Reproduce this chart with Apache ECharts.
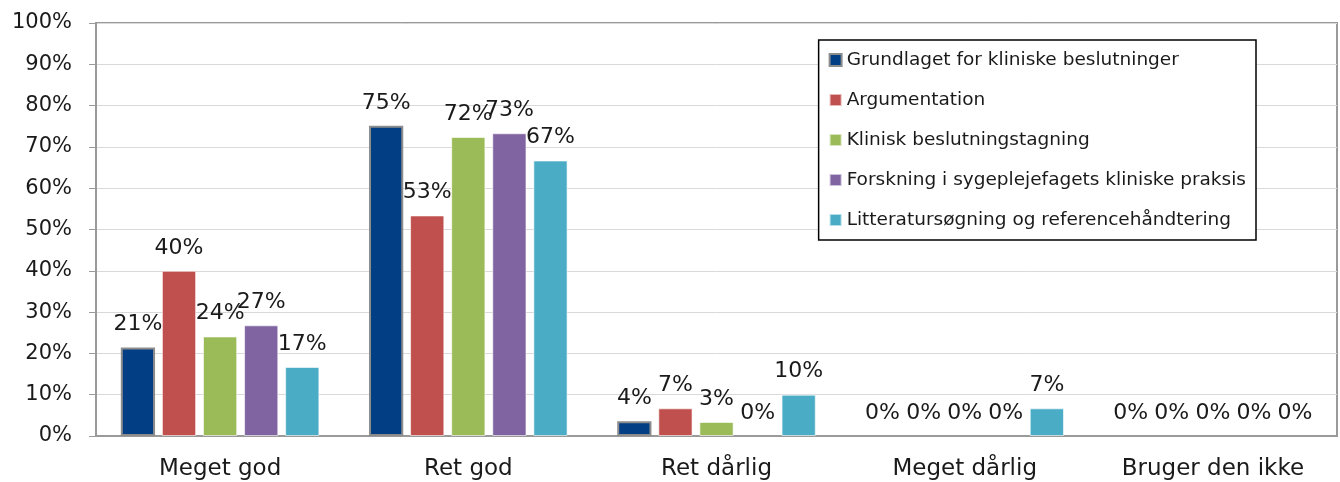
<!DOCTYPE html>
<html>
<head>
<meta charset="utf-8">
<script src="https://cdn.jsdelivr.net/npm/echarts@6/dist/echarts.min.js"></script>
<style>
  html, body { margin: 0; padding: 0; background: #fff; }
  #chart { width: 1340px; height: 482px; }
</style>
</head>
<body>
<div id="chart"></div>
<script>
// kategorier og serier
const categories = ['Meget god', 'Ret god', 'Ret dårlig', 'Meget dårlig', 'Bruger den ikke'];
const seriesNames = [
  'Grundlaget for kliniske beslutninger',
  'Argumentation',
  'Klinisk beslutningstagning',
  'Forskning i sygeplejefagets kliniske praksis',
  'Litteratursøgning og referencehåndtering'
];
const grundlaget = [21.4, 75.1, 3.6, 0, 0];
const argumentation = [40.0, 53.4, 6.7, 0, 0];
const klinisk = [24.1, 72.4, 3.4, 0, 0];
const forskning = [26.8, 73.3, 0, 0, 0];
const litteratur = [16.7, 66.7, 10.0, 6.7, 0];
const colors = ['#023e84', '#c0504d', '#9bbb59', '#8064a2', '#4bacc6'];

const font = 'DejaVu Sans';
const allData = [grundlaget, argumentation, klinisk, forskning, litteratur];

const chart = echarts.init(document.getElementById('chart'));

const series = allData.map((d, i) => ({
  name: seriesNames[i],
  type: 'bar',
  // ingen kant på 0-søjler
  data: d.map(v => v === 0 ? { value: v, itemStyle: { borderWidth: 0 } } : v),
  barGap: '20%',
  barCategoryGap: '20%',
  itemStyle: i === 0
    ? { color: colors[i], borderColor: '#8c8c8c', borderWidth: 2 }
    : { color: colors[i], borderColor: 'rgba(255,255,255,0.6)', borderWidth: 1 },
  label: {
    show: true,
    position: 'top',
    distance: 12,
    fontFamily: font,
    fontSize: 22,
    color: '#1a1a1a',
    formatter: p => Math.round(p.value) + '%'
  }
}));

chart.setOption({
  animation: false,
  color: colors,
  grid: {
    left: 96, right: 3, top: 23, bottom: 46,
    show: true, borderColor: '#9a9a9a', borderWidth: 2
  },
  legend: {
    orient: 'vertical',
    right: 84, top: 40,
    padding: [10, 10, 10, 10],
    backgroundColor: '#fff',
    borderColor: '#000',
    borderWidth: 1.5,
    itemWidth: 12, itemHeight: 12,
    itemGap: 20,
    icon: 'rect',
    textStyle: { fontFamily: font, fontSize: 18.5, color: '#1a1a1a', lineHeight: 20 },
    data: seriesNames
  },
  xAxis: {
    type: 'category',
    data: categories,
    axisLine: { lineStyle: { color: '#9a9a9a', width: 2 } },
    axisTick: { show: false },
    axisLabel: { fontFamily: font, fontSize: 23, color: '#1a1a1a', margin: 22 }
  },
  yAxis: {
    type: 'value',
    min: 0, max: 100, interval: 10,
    axisLine: { show: true, lineStyle: { color: '#9a9a9a', width: 2 } },
    axisTick: { show: true, length: 7, lineStyle: { color: '#9a9a9a' } },
    splitLine: { lineStyle: { color: '#d9d9d9', width: 1 } },
    axisLabel: { fontFamily: font, fontSize: 21, color: '#1a1a1a', margin: 24, formatter: '{value}%' }
  },
  series: series
});
</script>
</body>
</html>
